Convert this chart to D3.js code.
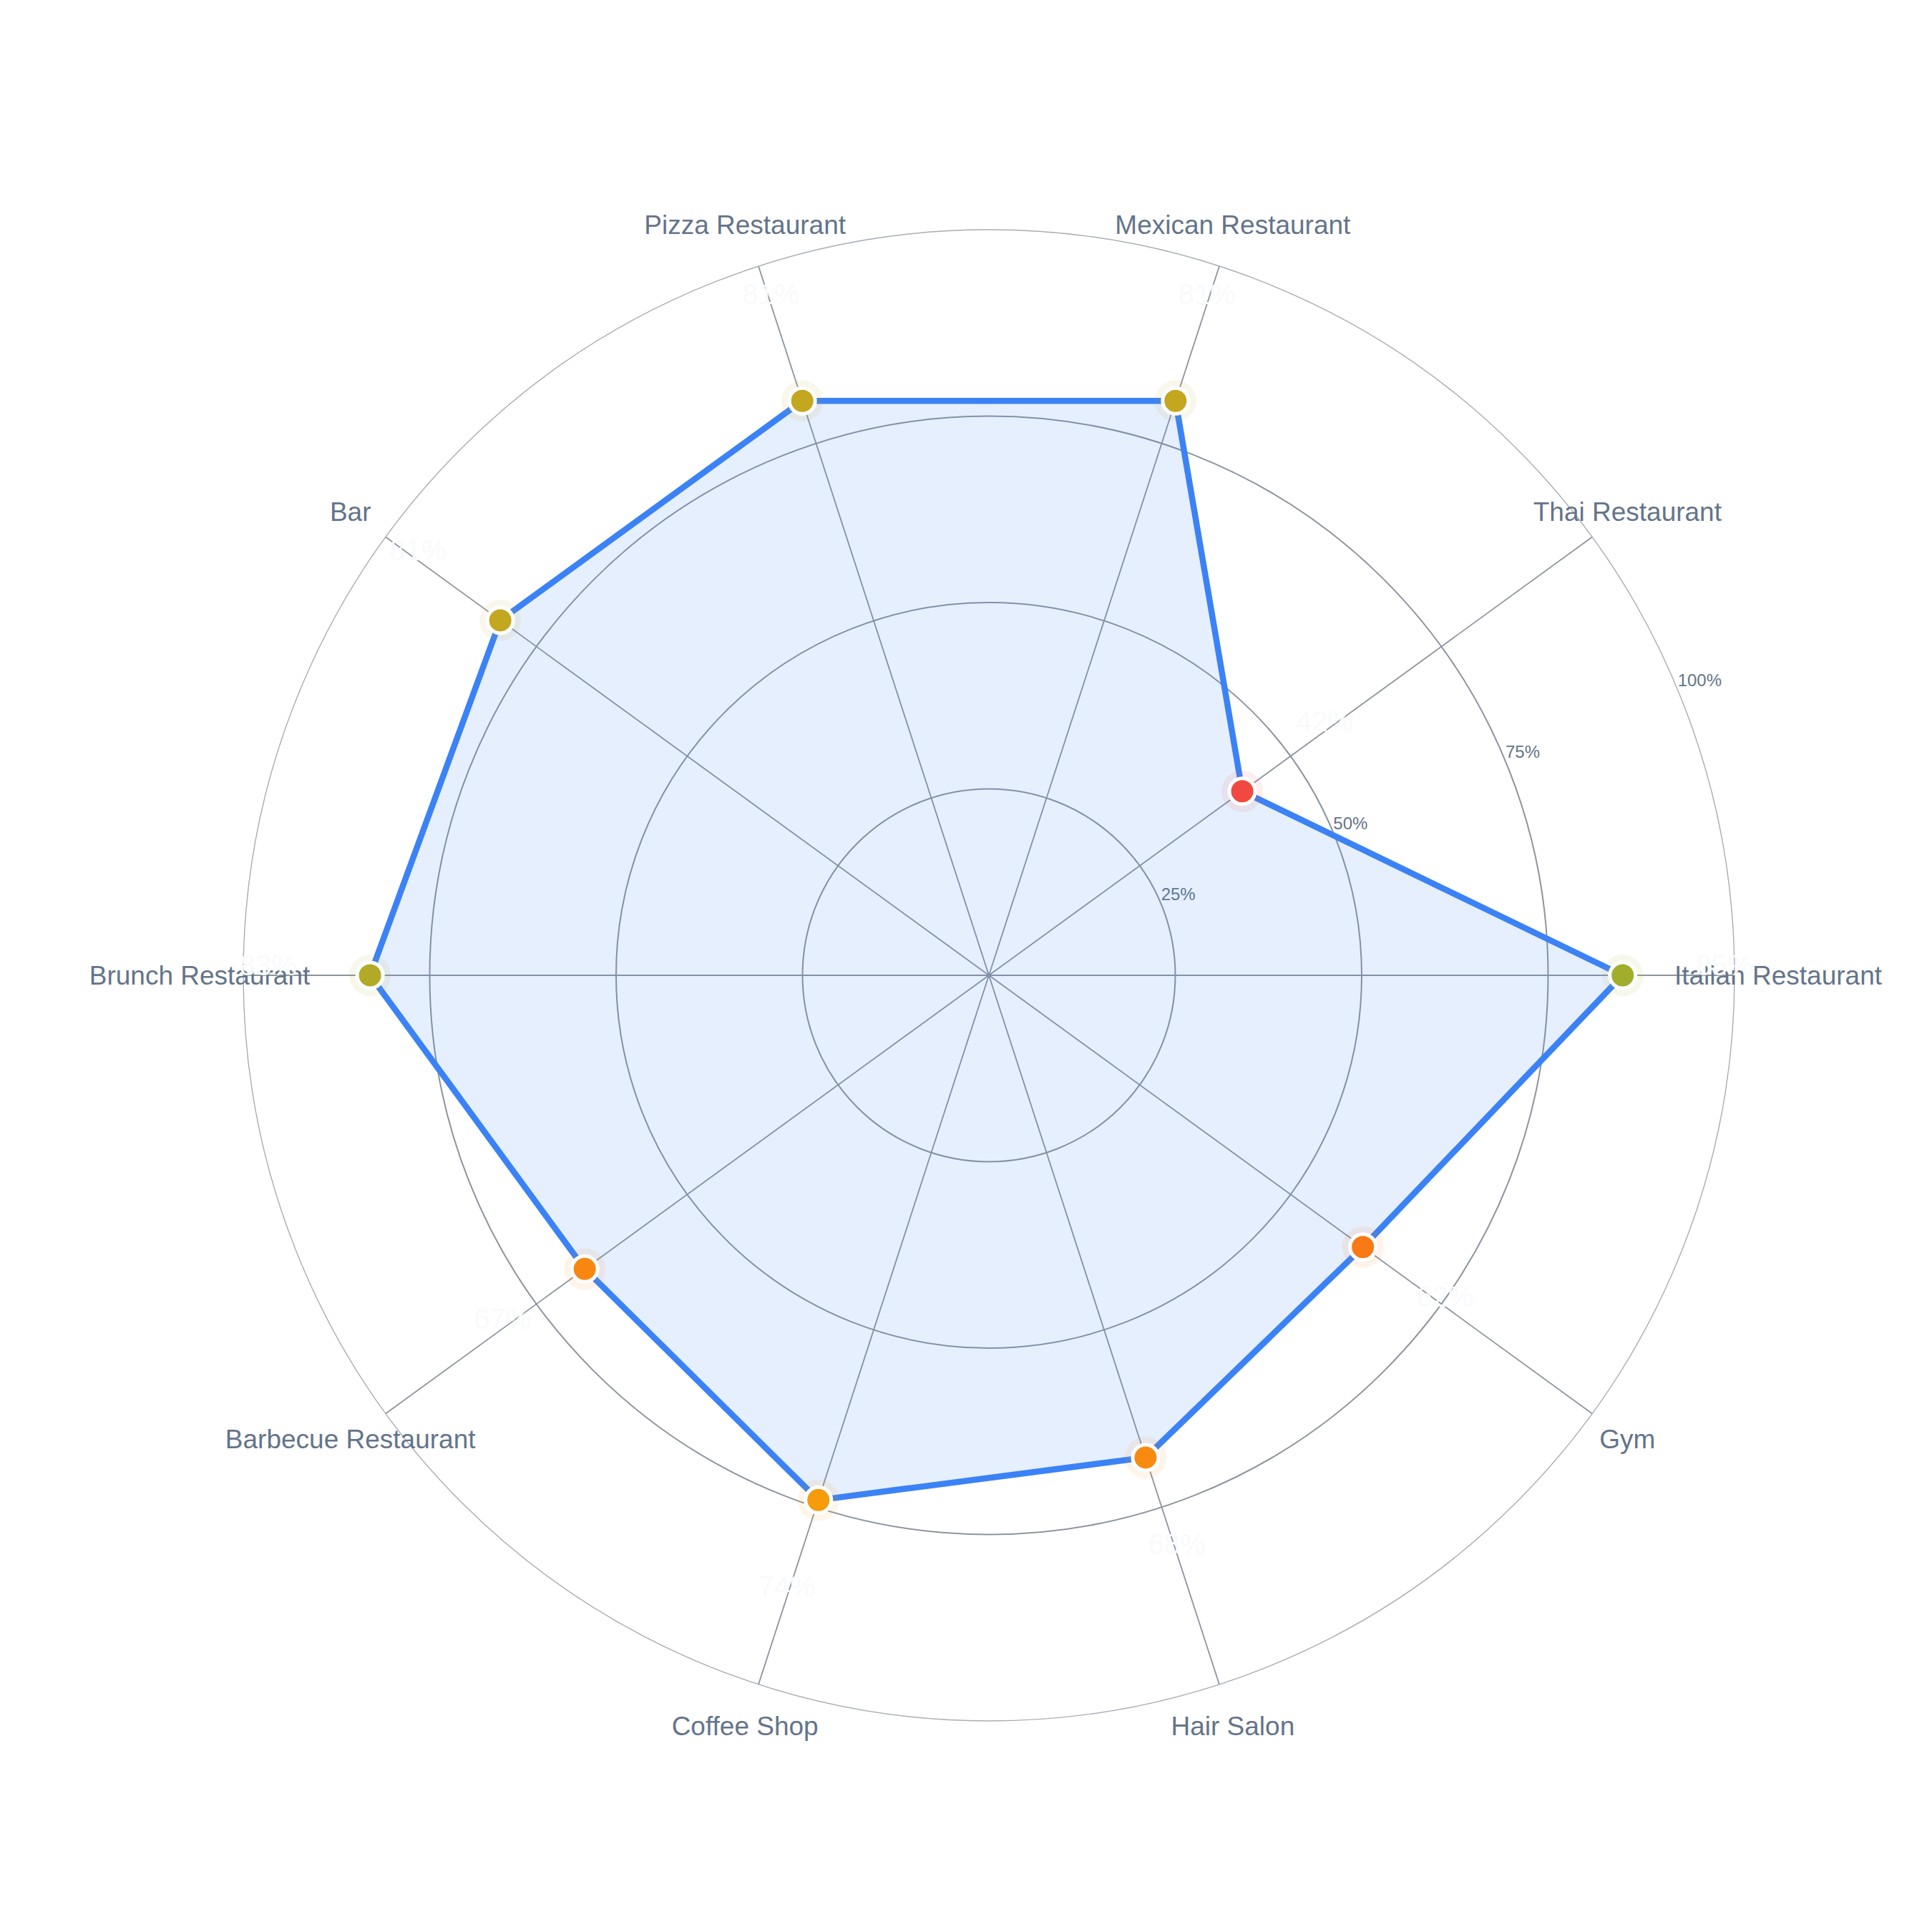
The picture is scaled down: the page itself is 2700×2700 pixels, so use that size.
<!DOCTYPE html>
<html>
<head>
<meta charset="utf-8">
<script src="https://cdn.jsdelivr.net/npm/d3@7/dist/d3.min.js"></script>
<style>
  html, body { margin: 0; padding: 0; background: #ffffff; }
  svg { display: block; }
  text { font-family: "Liberation Sans", Arial, Helvetica, sans-serif; }
</style>
</head>
<body>
<svg id="chart" width="2700" height="2700"></svg>
<script>
const categories = ["Italian Restaurant", "Thai Restaurant", "Mexican Restaurant", "Pizza Restaurant", "Bar",
                    "Brunch Restaurant", "Barbecue Restaurant", "Coffee Shop", "Hair Salon", "Gym"];
const values = [85, 42, 81, 81, 81, 83, 67, 74, 68, 62];
const ringTicks = [25, 50, 75, 100];
const ringTickLabels = ["25%", "50%", "75%", "100%"];

const width = 2700, height = 2700;
const cx = 1382, cy = 1363;
const R = 1042;

const svg = d3.select("#chart").attr("viewBox", [0, 0, width, height]);
svg.append("rect").attr("width", width).attr("height", height).attr("fill", "#ffffff");
const g = svg.append("g").attr("transform", `translate(${cx},${cy})`);

const r = d3.scaleLinear().domain([0, 100]).range([0, R]);
const n = categories.length;
// radial angle (clockwise from 12 o'clock); categories go counter-clockwise starting at 3 o'clock
const theta = i => Math.PI / 2 - i * 2 * Math.PI / n;
const px = (i, rad) => rad * Math.sin(theta(i));
const py = (i, rad) => -rad * Math.cos(theta(i));

const color = d3.scaleLinear()
  .domain([40, 60, 75, 100])
  .range(["#ef4444", "#f97316", "#f59e0b", "#22c55e"])
  .interpolate(d3.interpolateRgb);

// rings
g.append("g").selectAll("circle")
  .data(ringTicks)
  .join("circle")
  .attr("r", d => r(d))
  .attr("fill", "none")
  .attr("stroke", d => d === 100 ? "#a8adb5" : "#8d949e")
  .attr("stroke-width", d => d === 100 ? 1.4 : 2);

// axes
g.append("g").selectAll("line")
  .data(categories)
  .join("line")
  .attr("x1", 0).attr("y1", 0)
  .attr("x2", (d, i) => px(i, r(100)))
  .attr("y2", (d, i) => py(i, r(100)))
  .attr("stroke", "#8d949e")
  .attr("stroke-width", 1.8);

// ring labels
const labAng = Math.PI / 8;
g.append("g").selectAll("text")
  .data(ringTicks)
  .join("text")
  .attr("x", d => r(d) * Math.cos(labAng))
  .attr("y", d => -r(d) * Math.sin(labAng) - 5)
  .attr("text-anchor", "start")
  .attr("font-size", 24)
  .attr("fill", "#64748b")
  .text((d, i) => ringTickLabels[i]);

// area
const area = d3.areaRadial()
  .angle((d, i) => theta(i))
  .innerRadius(0)
  .outerRadius(d => r(d))
  .curve(d3.curveLinearClosed);
const line = d3.lineRadial()
  .angle((d, i) => theta(i))
  .radius(d => r(d))
  .curve(d3.curveLinearClosed);

g.append("path")
  .datum(values)
  .attr("d", area)
  .attr("fill", "#3b82f6")
  .attr("fill-opacity", 0.13);

g.append("path")
  .datum(values)
  .attr("d", line)
  .attr("fill", "none")
  .attr("stroke", "#3b82f6")
  .attr("stroke-width", 8.5)
  .attr("stroke-linejoin", "round");

// halos
g.append("g").selectAll("circle")
  .data(values)
  .join("circle")
  .attr("cx", (d, i) => px(i, r(d)))
  .attr("cy", (d, i) => py(i, r(d)))
  .attr("r", 29)
  .attr("fill", d => color(d))
  .attr("fill-opacity", 0.09);

// points
g.append("g").selectAll("circle")
  .data(values)
  .join("circle")
  .attr("cx", (d, i) => px(i, r(d)))
  .attr("cy", (d, i) => py(i, r(d)))
  .attr("r", 18)
  .attr("fill", d => color(d))
  .attr("stroke", "#ffffff")
  .attr("stroke-width", 5);

// category labels
g.append("g").selectAll("text")
  .data(categories)
  .join("text")
  .attr("x", (d, i) => px(i, R + 61))
  .attr("y", (d, i) => py(i, R + 61))
  .attr("text-anchor", "middle")
  .attr("dy", "0.35em")
  .attr("font-size", 37)
  .attr("fill", "#64748b")
  .text(d => d);

// value labels
g.append("g").selectAll("text")
  .data(values)
  .join("text")
  .attr("x", (d, i) => px(i, r(d) + 142))
  .attr("y", (d, i) => py(i, r(d) + 142))
  .attr("text-anchor", "middle")
  .attr("font-size", 40)
  .attr("fill", "#f8fafc")
  .text(d => d + "%");
</script>
</body>
</html>
